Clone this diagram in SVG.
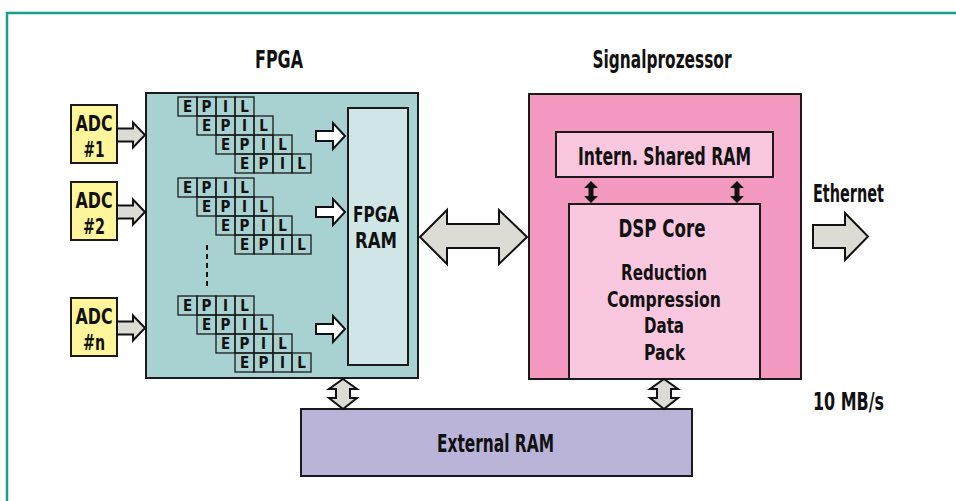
<svg xmlns="http://www.w3.org/2000/svg" xmlns:xlink="http://www.w3.org/1999/xlink" width="956" height="501" viewBox="0 0 956 501">
<style>
.lbl{font-family:"Liberation Sans Narrow","DejaVu Sans Condensed","Liberation Sans",sans-serif;font-weight:bold;font-size:25px;fill:#111;}
.stk{font-size:22px;}
.cell{fill:none;stroke:#1a1a1a;stroke-width:1.3;}
.ltr{font-family:"Liberation Sans Narrow","DejaVu Sans Condensed","Liberation Sans",sans-serif;font-weight:bold;font-size:15px;fill:#111;text-anchor:middle;}
.box{stroke:#1a1a1a;stroke-width:2;}
.garrow{fill:#dcdcd4;stroke:#111;stroke-width:2;stroke-linejoin:miter;}
.warrow{fill:#ffffff;stroke:#111;stroke-width:2;}
.barrow{fill:#111;stroke:none;}
</style>
<defs>
<g id="epil">
<rect class="cell" x="0" y="0" width="19" height="19"/>
<rect class="cell" x="19" y="0" width="19" height="19"/>
<rect class="cell" x="38" y="0" width="19" height="19"/>
<rect class="cell" x="57" y="0" width="19" height="19"/>
<text class="ltr" x="9.5" y="15">E</text>
<text class="ltr" x="28.5" y="15">P</text>
<text class="ltr" x="47.5" y="15">I</text>
<text class="ltr" x="66.5" y="15">L</text>
</g>
<path id="wa" class="warrow" d="M0,-5 L17,-5 L17,-13 L29,0 L17,13 L17,5 L0,5 Z"/>
<path id="aa" class="garrow" d="M0,-6.5 L16,-6.5 L16,-12.5 L28,0 L16,12.5 L16,6.5 L0,6.5 Z"/>
<path id="va" class="garrow" d="M0,0 L14,10 L7,10 L7,19 L14,19 L0,30 L-14,19 L-7,19 L-7,10 L-14,10 Z"/>
<path id="ba" class="barrow" d="M0,0 L7,7 L2.5,7 L2.5,15 L7,15 L0,22 L-7,15 L-2.5,15 L-2.5,7 L-7,7 Z"/>
</defs>

<g id="frame">
<path d="M7,501 L7,13 L956,13" fill="none" stroke="#169e8f" stroke-width="2.5"/>
</g>

<g id="titles">
<text class="lbl" x="279" y="68" text-anchor="middle" textLength="48" lengthAdjust="spacingAndGlyphs">FPGA</text>
<text class="lbl" x="662" y="68" text-anchor="middle" textLength="139" lengthAdjust="spacingAndGlyphs">Signalprozessor</text>
</g>

<g id="fpga">
<rect class="box" x="146" y="93" width="272" height="285" fill="#a8d2d2"/>
<use xlink:href="#epil" x="178" y="97"/>
<use xlink:href="#epil" x="197" y="116"/>
<use xlink:href="#epil" x="216" y="135"/>
<use xlink:href="#epil" x="235" y="154"/>
<use xlink:href="#epil" x="178" y="178"/>
<use xlink:href="#epil" x="197" y="197"/>
<use xlink:href="#epil" x="216" y="216"/>
<use xlink:href="#epil" x="235" y="235"/>
<use xlink:href="#epil" x="178" y="296"/>
<use xlink:href="#epil" x="197" y="315"/>
<use xlink:href="#epil" x="216" y="334"/>
<use xlink:href="#epil" x="235" y="353"/>
<line x1="207" y1="245" x2="207" y2="289" stroke="#111" stroke-width="2" stroke-dasharray="5,4"/>
</g>

<g id="fpga-ram">
<rect class="box" x="348" y="108" width="60" height="257" fill="#d0e6e6"/>
<text class="lbl stk" x="376" y="222" text-anchor="middle" textLength="46" lengthAdjust="spacingAndGlyphs">FPGA</text>
<text class="lbl stk" x="376" y="248" text-anchor="middle" textLength="42" lengthAdjust="spacingAndGlyphs">RAM</text>
</g>

<g id="adc1">
<rect class="box" x="71" y="105" width="46" height="58" fill="#fff59a"/>
<text class="lbl stk" x="94" y="131" text-anchor="middle" textLength="37" lengthAdjust="spacingAndGlyphs">ADC</text>
<text class="lbl stk" x="94" y="157" text-anchor="middle" textLength="21" lengthAdjust="spacingAndGlyphs">#1</text>
</g>
<g id="adc2">
<rect class="box" x="71" y="182" width="46" height="58" fill="#fff59a"/>
<text class="lbl stk" x="94" y="208" text-anchor="middle" textLength="37" lengthAdjust="spacingAndGlyphs">ADC</text>
<text class="lbl stk" x="94" y="234" text-anchor="middle" textLength="22" lengthAdjust="spacingAndGlyphs">#2</text>
</g>
<g id="adcn">
<rect class="box" x="71" y="298" width="46" height="58" fill="#fff59a"/>
<text class="lbl stk" x="94" y="324" text-anchor="middle" textLength="37" lengthAdjust="spacingAndGlyphs">ADC</text>
<text class="lbl stk" x="94" y="350" text-anchor="middle" textLength="22" lengthAdjust="spacingAndGlyphs">#n</text>
</g>

<g id="dsp">
<rect class="box" x="529" y="94" width="272" height="285" fill="#f49ac1"/>
</g>
<g id="shared-ram">
<rect class="box" x="556" y="132" width="217" height="45" fill="#f9c8de"/>
<text class="lbl" x="664.5" y="165" text-anchor="middle" textLength="173" lengthAdjust="spacingAndGlyphs" font-size="24">Intern. Shared RAM</text>
</g>
<g id="dsp-core">
<rect class="box" x="569" y="204" width="191" height="175" fill="#f9c8de"/>
<text class="lbl" x="662" y="237" text-anchor="middle" textLength="87" lengthAdjust="spacingAndGlyphs">DSP Core</text>
<text class="lbl stk" x="664" y="280" text-anchor="middle" textLength="86" lengthAdjust="spacingAndGlyphs">Reduction</text>
<text class="lbl stk" x="664" y="307" text-anchor="middle" textLength="114" lengthAdjust="spacingAndGlyphs">Compression</text>
<text class="lbl stk" x="664" y="333" text-anchor="middle" textLength="40" lengthAdjust="spacingAndGlyphs">Data</text>
<text class="lbl stk" x="664.5" y="360" text-anchor="middle" textLength="41" lengthAdjust="spacingAndGlyphs">Pack</text>
</g>

<g id="external-ram">
<rect class="box" x="301" y="409" width="391" height="67" fill="#bab4d8"/>
<text class="lbl" x="495.5" y="452" text-anchor="middle" textLength="117" lengthAdjust="spacingAndGlyphs">External RAM</text>
</g>

<g id="ethernet">
<text class="lbl" x="813" y="202" textLength="71" lengthAdjust="spacingAndGlyphs">Ethernet</text>
<path class="garrow" d="M813,225 L845,225 L845,213 L868,236.5 L845,260 L845,248 L813,248 Z"/>
<text class="lbl" x="813" y="410" textLength="71" lengthAdjust="spacingAndGlyphs">10 MB/s</text>
</g>

<g id="connectors">
<use xlink:href="#aa" x="117" y="135"/>
<use xlink:href="#aa" x="117" y="212"/>
<use xlink:href="#aa" x="117" y="328"/>
<use xlink:href="#wa" x="316" y="136"/>
<use xlink:href="#wa" x="316" y="212"/>
<use xlink:href="#wa" x="316" y="329"/>
<path class="garrow" d="M420,237 L447,210 L447,224 L499,224 L499,210 L527,237 L499,264 L499,248 L447,248 L447,264 Z"/>
<use xlink:href="#ba" x="591" y="181"/>
<use xlink:href="#ba" x="737" y="181"/>
<use xlink:href="#va" x="343" y="379"/>
<use xlink:href="#va" x="664" y="379"/>
</g>
</svg>
